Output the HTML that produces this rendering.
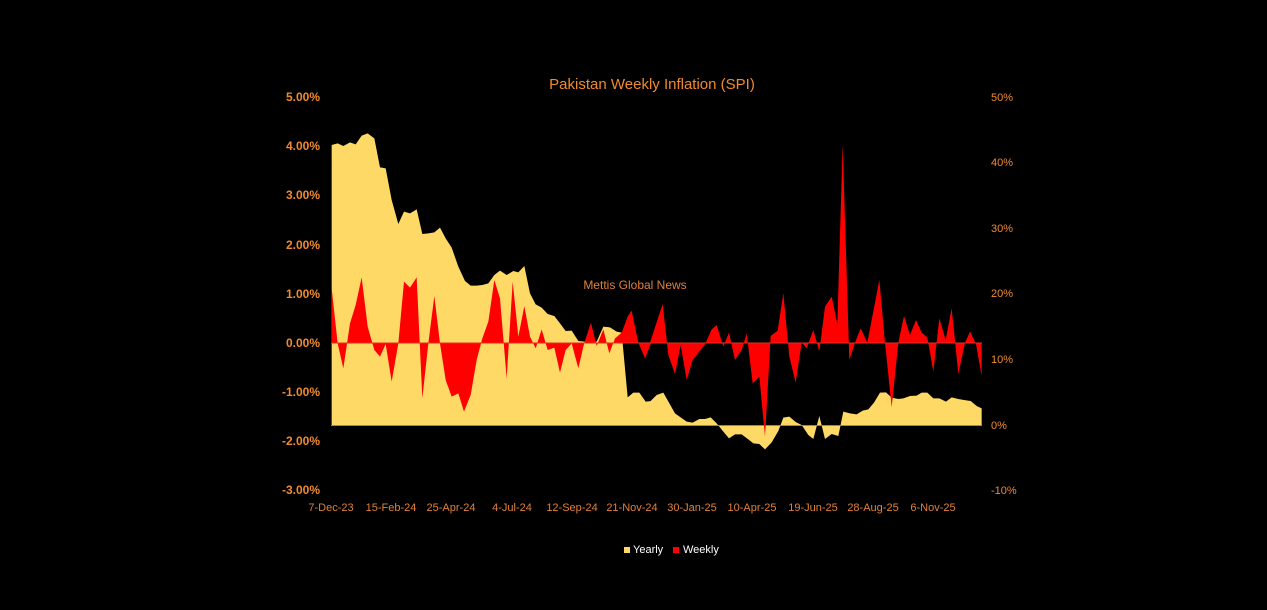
<!DOCTYPE html>
<html><head><meta charset="utf-8"><style>
html,body{margin:0;padding:0;background:#000;}
svg{display:block;font-family:"Liberation Sans",sans-serif;}
.l{fill:#f08a30;font-size:12px;font-weight:bold;}
.x{fill:#e0803a;font-size:11px;}
</style></head><body>
<svg width="1267" height="610" viewBox="0 0 1267 610">
<rect width="1267" height="610" fill="#000"/>
<text x="652" y="89" text-anchor="middle" fill="#f08a30" font-size="15">Pakistan Weekly Inflation (SPI)</text>
<g class="l" text-anchor="end">
<text x="320" y="101">5.00%</text><text x="320" y="150">4.00%</text><text x="320" y="199">3.00%</text><text x="320" y="249">2.00%</text><text x="320" y="298">1.00%</text><text x="320" y="347">0.00%</text><text x="320" y="396">-1.00%</text><text x="320" y="445">-2.00%</text><text x="320" y="494">-3.00%</text>
</g>
<g class="l" style="font-size:11px;font-weight:normal">
<text x="991" y="101">50%</text><text x="991" y="166">40%</text><text x="991" y="232">30%</text><text x="991" y="297">20%</text><text x="991" y="363">10%</text><text x="991" y="429">0%</text><text x="991" y="494">-10%</text>
</g>
<!-- yearly -->
<g transform="translate(325,120) scale(0.33333)">
<path fill="#ffd966" d="M20,915 L20,75 38,70 55,78 75,67 92,73 110,47 128,40 148,55 165,142 182,145 200,240 220,312 237,275 255,280 275,268 292,342 310,340 328,337 345,323 362,355 380,383 400,440 420,483 437,497 455,497 472,495 490,490 508,465 525,452 545,465 565,453 580,457 598,438 615,520 632,553 650,563 668,582 688,588 705,610 722,633 740,632 760,663 780,665 800,665 815,665 835,620 855,622 875,635 890,638 908,832 925,818 943,818 962,845 980,843 990,832 992,915 Z"/>
</g>
<g transform="translate(650,120) scale(0.33333)">
<path fill="#ffd966" d="M-5,915 L-5,848 0,845 20,825 40,818 75,880 110,905 128,908 148,897 165,897 182,892 200,910 220,935 237,955 255,943 275,943 295,958 310,970 328,972 345,988 365,967 385,933 400,893 418,890 437,906 455,915 475,945 490,957 508,888 525,957 545,942 565,948 580,875 600,880 620,883 638,872 655,868 672,848 690,818 708,817 725,833 745,837 760,835 780,828 800,827 815,818 832,818 850,835 868,835 888,845 905,832 925,837 942,840 962,843 980,858 995,865 995,915 Z"/>
</g>
<line x1="331" y1="425.5" x2="982" y2="425.5" stroke="#888" stroke-width="1"/>
<!-- weekly -->
<g transform="translate(325,120) scale(0.33333)">
<path fill="#ff0000" d="M20,669 L20,505 38,670 55,745 75,610 92,555 110,472 128,620 148,690 165,710 182,672 200,785 220,670 237,485 255,503 275,472 292,835 310,670 328,528 345,670 362,780 380,830 400,820 417,875 437,825 455,720 472,655 490,605 508,480 525,535 545,775 563,485 580,650 598,558 615,650 632,685 650,628 668,690 688,683 705,758 722,690 740,670 760,745 778,668 798,608 815,678 835,628 853,700 870,655 890,638 908,590 920,572 940,668 960,715 980,665 990,640 992,669 Z"/>
</g>
<g transform="translate(650,120) scale(0.33333)">
<path fill="#ff0000" d="M-5,669 L0,668 38,552 55,705 75,762 92,675 110,780 128,720 165,673 185,628 200,615 220,680 237,638 255,720 275,690 290,640 308,790 328,770 345,950 362,648 383,632 400,520 418,710 437,788 455,668 470,685 490,630 508,695 525,560 545,530 562,612 578,72 598,720 615,668 632,625 652,668 688,480 705,668 725,862 745,668 762,588 780,645 798,600 815,638 832,652 850,755 868,595 887,660 905,565 925,762 945,668 960,635 978,672 995,768 995,669 Z"/>
</g>
<line x1="331" y1="343" x2="982" y2="343" stroke="#e03020" stroke-width="1"/>
<text x="635" y="289" text-anchor="middle" fill="#e0803a" font-size="12">Mettis Global News</text>
<g class="x" text-anchor="middle">
<text x="331" y="511">7-Dec-23</text><text x="391" y="511">15-Feb-24</text><text x="451" y="511">25-Apr-24</text><text x="512" y="511">4-Jul-24</text><text x="572" y="511">12-Sep-24</text><text x="632" y="511">21-Nov-24</text><text x="692" y="511">30-Jan-25</text><text x="752" y="511">10-Apr-25</text><text x="813" y="511">19-Jun-25</text><text x="873" y="511">28-Aug-25</text><text x="933" y="511">6-Nov-25</text>
</g>
<rect x="624" y="547" width="6" height="6" fill="#ffd966"/>
<text x="633" y="553" fill="#fff" font-size="11">Yearly</text>
<rect x="673" y="547" width="6" height="6" fill="#ff0000"/>
<text x="683" y="553" fill="#fff" font-size="11">Weekly</text>
</svg>
</body></html>
